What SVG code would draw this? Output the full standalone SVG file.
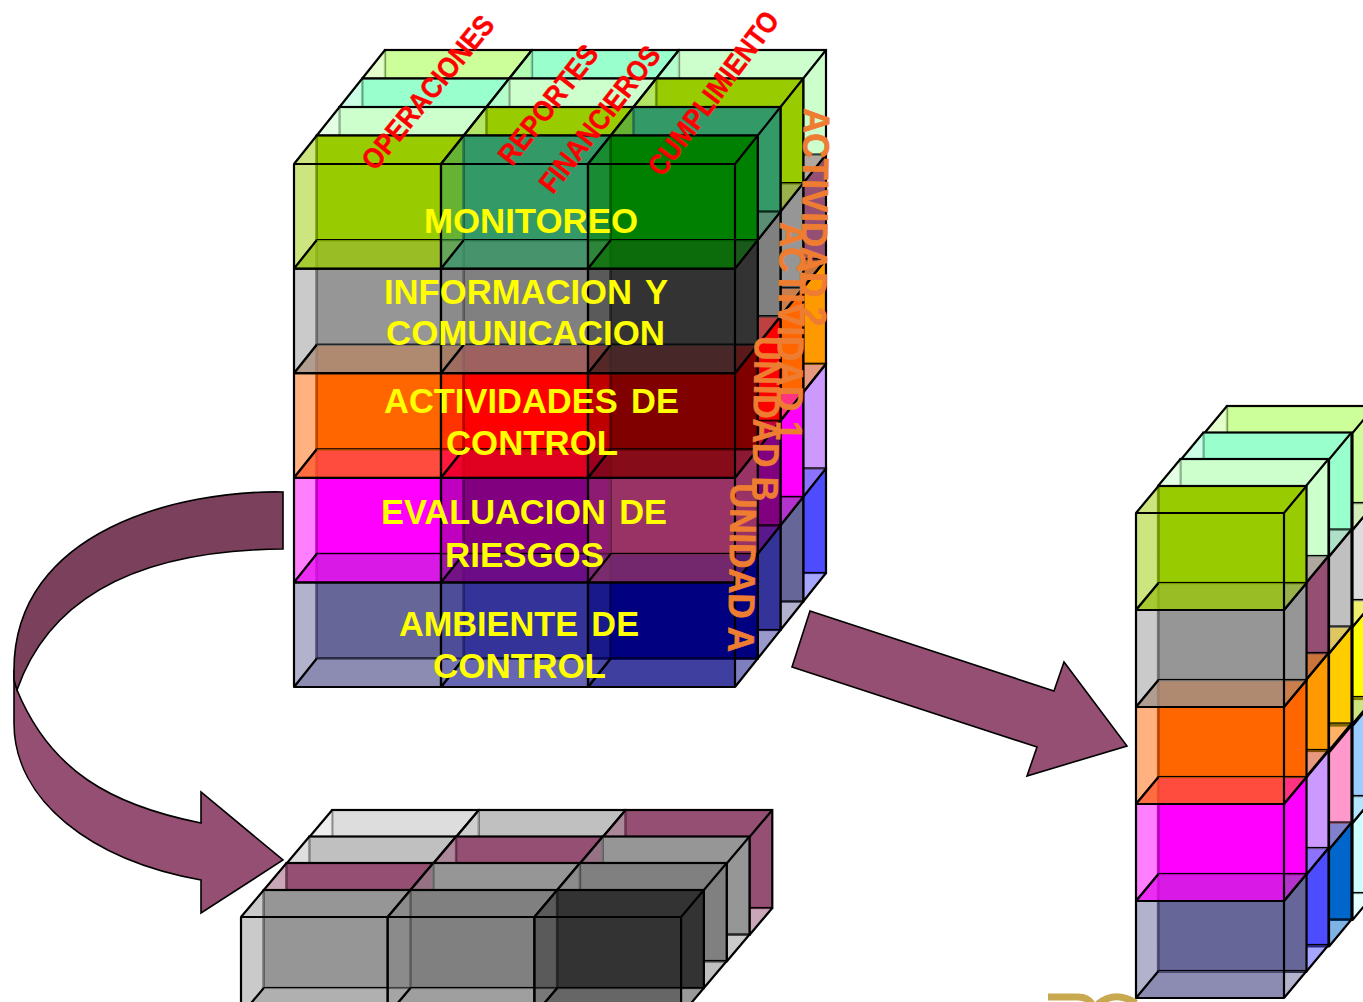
<svg xmlns="http://www.w3.org/2000/svg" xmlns:xlink="http://www.w3.org/1999/xlink" width="1363" height="1002" viewBox="0 0 1363 1002">
<style>
.k{fill:currentColor;stroke:#000;stroke-width:2.2}
.soft{fill:none;stroke:currentColor;stroke-width:3;stroke-opacity:.6}
.l{fill:currentColor;fill-opacity:.5;stroke:none}
.b{fill:currentColor;fill-opacity:.5;stroke:none}
.o{fill:none;stroke:#000;stroke-width:2.2;stroke-linejoin:round}
.ar{stroke:#000;stroke-width:1.6;stroke-linejoin:miter}
.y{font:bold 35.5px "Liberation Sans",Arial,sans-serif;fill:#ffff00;word-spacing:4px}
.r{font:bold 29px "Liberation Sans",Arial,sans-serif;fill:#ff0000;stroke:#ff0000;stroke-width:.4}
.v{font:bold 37px "Liberation Sans",Arial,sans-serif;fill:#ee7d31;stroke:#ee7d31;stroke-width:.7}
.a0{color:#ccff99}.a1{color:#99ffcc}.a2{color:#ccffcc}.a3{color:#99cc00}.a4{color:#339966}.a5{color:#008000}
.e0{color:#dddddd}.e1{color:#c0c0c0}.e2{color:#954f72}.e3{color:#969696}.e4{color:#808080}.e5{color:#333333}
.c0{color:#ffff00}.c1{color:#ffcc00}.c2{color:#ff9900}.c3{color:#ff6600}.c4{color:#ff0000}.c5{color:#800000}
.d0{color:#99ccff}.d1{color:#ff99cc}.d2{color:#cc99ff}.d3{color:#ff00ff}.d4{color:#800080}.d5{color:#993366}
.f0{color:#ccffff}.f1{color:#0066cc}.f2{color:#4d4dff}.f3{color:#666699}.f4{color:#333399}.f5{color:#000080}
</style>
<defs>
<g id="m">
<rect class="k" x="22.75" y="-28.5" width="147" height="104.6"/>
<path class="soft" d="M22.75,-27.4V75"/>
<polygon class="l" points="0,0 22.75,-28.5 22.75,76.1 0,104.6"/>
<polygon class="b" points="0,104.6 22.75,76.1 169.75,76.1 147,104.6"/>
<polygon class="b" points="0,104.6 22.75,76.1 147,76.1 147,104.6"/>
<path class="o" d="M0,0H147V104.6H0ZM0,0L22.75,-28.5M147,0L169.75,-28.5M147,104.6L169.75,76.1M0,104.6L22.75,76.1"/>
</g>
<g id="s">
<rect class="k" x="22.5" y="-27" width="148" height="97"/>
<path class="soft" d="M22.5,-26V69"/>
<polygon class="l" points="0,0 22.5,-27 22.5,70 0,97"/>
<polygon class="b" points="0,97 22.5,70 170.5,70 148,97"/>
<polygon class="b" points="0,97 22.5,70 148,70 148,97"/>
<path class="o" d="M0,0H148V97H0ZM0,0L22.5,-27M148,0L170.5,-27M148,97L170.5,70M0,97L22.5,70"/>
</g>
<g id="t">
<rect class="k" x="22.8" y="-27" width="146.7" height="98"/>
<path class="soft" d="M22.8,-26V70"/>
<polygon class="l" points="0,0 22.8,-27 22.8,71 0,98"/>
<polygon class="b" points="0,98 22.8,71 169.5,71 146.7,98"/>
<polygon class="b" points="0,98 22.8,71 146.7,71 146.7,98"/>
<path class="o" d="M0,0H146.7V98H0ZM0,0L22.8,-27M146.7,0L169.5,-27M146.7,98L169.5,71M0,98L22.8,71"/>
</g>
</defs>
<rect width="1363" height="1002" fill="#ffffff"/>
<g id="cube-bottom">
<use href="#t" x="309.4" y="837" class="e0"/><use href="#t" x="456.1" y="837" class="e1"/><use href="#t" x="602.8" y="837" class="e2"/>
<use href="#t" x="286.6" y="863.5" class="e1"/><use href="#t" x="433.3" y="863.5" class="e2"/><use href="#t" x="580" y="863.5" class="e3"/>
<use href="#t" x="263.8" y="890" class="e2"/><use href="#t" x="410.5" y="890" class="e3"/><use href="#t" x="557.2" y="890" class="e4"/>
<use href="#t" x="241" y="917" class="e3"/><use href="#t" x="387.7" y="917" class="e4"/><use href="#t" x="534.4" y="917" class="e5"/>
</g>
<g id="gold-fragment" fill="none" stroke="#c9a94f" stroke-width="7">
<path d="M1048,997H1078Q1088,997 1092,1004"/>
<path d="M1098,1004Q1115,990 1136,1003"/>
</g>
<g id="cube-right">
<use href="#s" x="1204.5" y="823" class="f0"/><use href="#s" x="1204.5" y="726" class="d0"/><use href="#s" x="1204.5" y="627" class="c0"/><use href="#s" x="1204.5" y="530" class="e0"/><use href="#s" x="1204.5" y="433" class="a0"/>
<use href="#s" x="1181" y="849.5" class="f1"/><use href="#s" x="1181" y="752.5" class="d1"/><use href="#s" x="1181" y="653.5" class="c1"/><use href="#s" x="1181" y="556.5" class="e1"/><use href="#s" x="1181" y="459.5" class="a1"/>
<use href="#s" x="1158" y="875" class="f2"/><use href="#s" x="1158" y="778" class="d2"/><use href="#s" x="1158" y="680" class="c2"/><use href="#s" x="1158" y="583" class="e2"/><use href="#s" x="1158" y="486" class="a2"/>
<use href="#s" x="1136" y="901" class="f3"/><use href="#s" x="1136" y="804" class="d3"/><use href="#s" x="1136" y="707" class="c3"/><use href="#s" x="1136" y="610" class="e3"/><use href="#s" x="1136" y="513" class="a3"/>
</g>
<g id="cube-main">
<g id="row-3">
<use href="#m" x="362.25" y="496.9" class="f0"/><use href="#m" x="509.25" y="496.9" class="f1"/><use href="#m" x="656.25" y="496.9" class="f2"/>
<use href="#m" x="362.25" y="392.3" class="d0"/><use href="#m" x="509.25" y="392.3" class="d1"/><use href="#m" x="656.25" y="392.3" class="d2"/>
<use href="#m" x="362.25" y="287.7" class="c0"/><use href="#m" x="509.25" y="287.7" class="c1"/><use href="#m" x="656.25" y="287.7" class="c2"/>
<use href="#m" x="362.25" y="183.1" class="e0"/><use href="#m" x="509.25" y="183.1" class="e1"/><use href="#m" x="656.25" y="183.1" class="e2"/>
<use href="#m" x="362.25" y="78.5" class="a0"/><use href="#m" x="509.25" y="78.5" class="a1"/><use href="#m" x="656.25" y="78.5" class="a2"/>
</g>
<g id="row-2">
<use href="#m" x="339.5" y="525.4" class="f1"/><use href="#m" x="486.5" y="525.4" class="f2"/><use href="#m" x="633.5" y="525.4" class="f3"/>
<use href="#m" x="339.5" y="420.8" class="d1"/><use href="#m" x="486.5" y="420.8" class="d2"/><use href="#m" x="633.5" y="420.8" class="d3"/>
<use href="#m" x="339.5" y="316.2" class="c1"/><use href="#m" x="486.5" y="316.2" class="c2"/><use href="#m" x="633.5" y="316.2" class="c3"/>
<use href="#m" x="339.5" y="211.6" class="e1"/><use href="#m" x="486.5" y="211.6" class="e2"/><use href="#m" x="633.5" y="211.6" class="e3"/>
<use href="#m" x="339.5" y="107" class="a1"/><use href="#m" x="486.5" y="107" class="a2"/><use href="#m" x="633.5" y="107" class="a3"/>
</g>
<g id="row-1">
<use href="#m" x="316.75" y="553.9" class="f2"/><use href="#m" x="463.75" y="553.9" class="f3"/><use href="#m" x="610.75" y="553.9" class="f4"/>
<use href="#m" x="316.75" y="449.3" class="d2"/><use href="#m" x="463.75" y="449.3" class="d3"/><use href="#m" x="610.75" y="449.3" class="d4"/>
<use href="#m" x="316.75" y="344.7" class="c2"/><use href="#m" x="463.75" y="344.7" class="c3"/><use href="#m" x="610.75" y="344.7" class="c4"/>
<use href="#m" x="316.75" y="240.1" class="e2"/><use href="#m" x="463.75" y="240.1" class="e3"/><use href="#m" x="610.75" y="240.1" class="e4"/>
<use href="#m" x="316.75" y="135.5" class="a2"/><use href="#m" x="463.75" y="135.5" class="a3"/><use href="#m" x="610.75" y="135.5" class="a4"/>
</g>
<g id="row-0">
<use href="#m" x="294" y="582.4" class="f3"/><use href="#m" x="441" y="582.4" class="f4"/><use href="#m" x="588" y="582.4" class="f5"/>
<use href="#m" x="294" y="477.8" class="d3"/><use href="#m" x="441" y="477.8" class="d4"/><use href="#m" x="588" y="477.8" class="d5"/>
<use href="#m" x="294" y="373.2" class="c3"/><use href="#m" x="441" y="373.2" class="c4"/><use href="#m" x="588" y="373.2" class="c5"/>
<use href="#m" x="294" y="268.6" class="e3"/><use href="#m" x="441" y="268.6" class="e4"/><use href="#m" x="588" y="268.6" class="e5"/>
<use href="#m" x="294" y="164" class="a3"/><use href="#m" x="441" y="164" class="a4"/><use href="#m" x="588" y="164" class="a5"/>
</g>
</g>
<g id="connectors">
<path class="ar" fill="#954f72" d="M14,670V723C14,800 90,860 201,880V913L283,860L201,792V823C110,805 50,770 17,690Z"/>
<path class="ar" fill="#7a405c" d="M283,492C180,490 14,530 14,670V680L17,690C52,590 150,550 283,549Z"/>
<polygon class="ar" fill="#954f72" points="810,611 1054,691 1064,662 1127,746 1027,776 1037,747 792,667"/>
</g>
<g id="layer-labels">
<text class="y" x="424" y="233" textLength="214" lengthAdjust="spacingAndGlyphs">MONITOREO</text>
<text class="y" x="384" y="304" textLength="284" lengthAdjust="spacingAndGlyphs">INFORMACION Y</text>
<text class="y" x="386" y="345" textLength="279" lengthAdjust="spacingAndGlyphs">COMUNICACION</text>
<text class="y" x="384" y="413" textLength="295" lengthAdjust="spacingAndGlyphs">ACTIVIDADES DE</text>
<text class="y" x="446" y="455" textLength="172" lengthAdjust="spacingAndGlyphs">CONTROL</text>
<text class="y" x="381" y="524" textLength="286" lengthAdjust="spacingAndGlyphs">EVALUACION DE</text>
<text class="y" x="445" y="567" textLength="159" lengthAdjust="spacingAndGlyphs">RIESGOS</text>
<text class="y" x="399" y="636" textLength="240" lengthAdjust="spacingAndGlyphs">AMBIENTE DE</text>
<text class="y" x="433" y="678" textLength="173" lengthAdjust="spacingAndGlyphs">CONTROL</text>
</g>
<g id="column-labels">
<text class="r" transform="translate(375,172) rotate(-50.5)" textLength="190" lengthAdjust="spacingAndGlyphs">OPERACIONES</text>
<text class="r" transform="translate(512,167) rotate(-52)" textLength="143" lengthAdjust="spacingAndGlyphs">REPORTES</text>
<text class="r" transform="translate(553,195) rotate(-52)" textLength="177" lengthAdjust="spacingAndGlyphs">FINANCIEROS</text>
<text class="r" transform="translate(662,178) rotate(-53)" textLength="197" lengthAdjust="spacingAndGlyphs">CUMPLIMIENTO</text>
</g>
<g id="depth-labels">
<text class="v" transform="translate(804,108) rotate(91)" textLength="218" lengthAdjust="spacingAndGlyphs">ACTIVIDAD 2</text>
<text class="v" transform="translate(780,222) rotate(91)" textLength="218" lengthAdjust="spacingAndGlyphs">ACTIVIDAD 1</text>
<text class="v" transform="translate(755,336) rotate(91)" textLength="165" lengthAdjust="spacingAndGlyphs">UNIDAD B</text>
<text class="v" transform="translate(731,483) rotate(91)" textLength="169" lengthAdjust="spacingAndGlyphs">UNIDAD A</text>
</g>
</svg>
